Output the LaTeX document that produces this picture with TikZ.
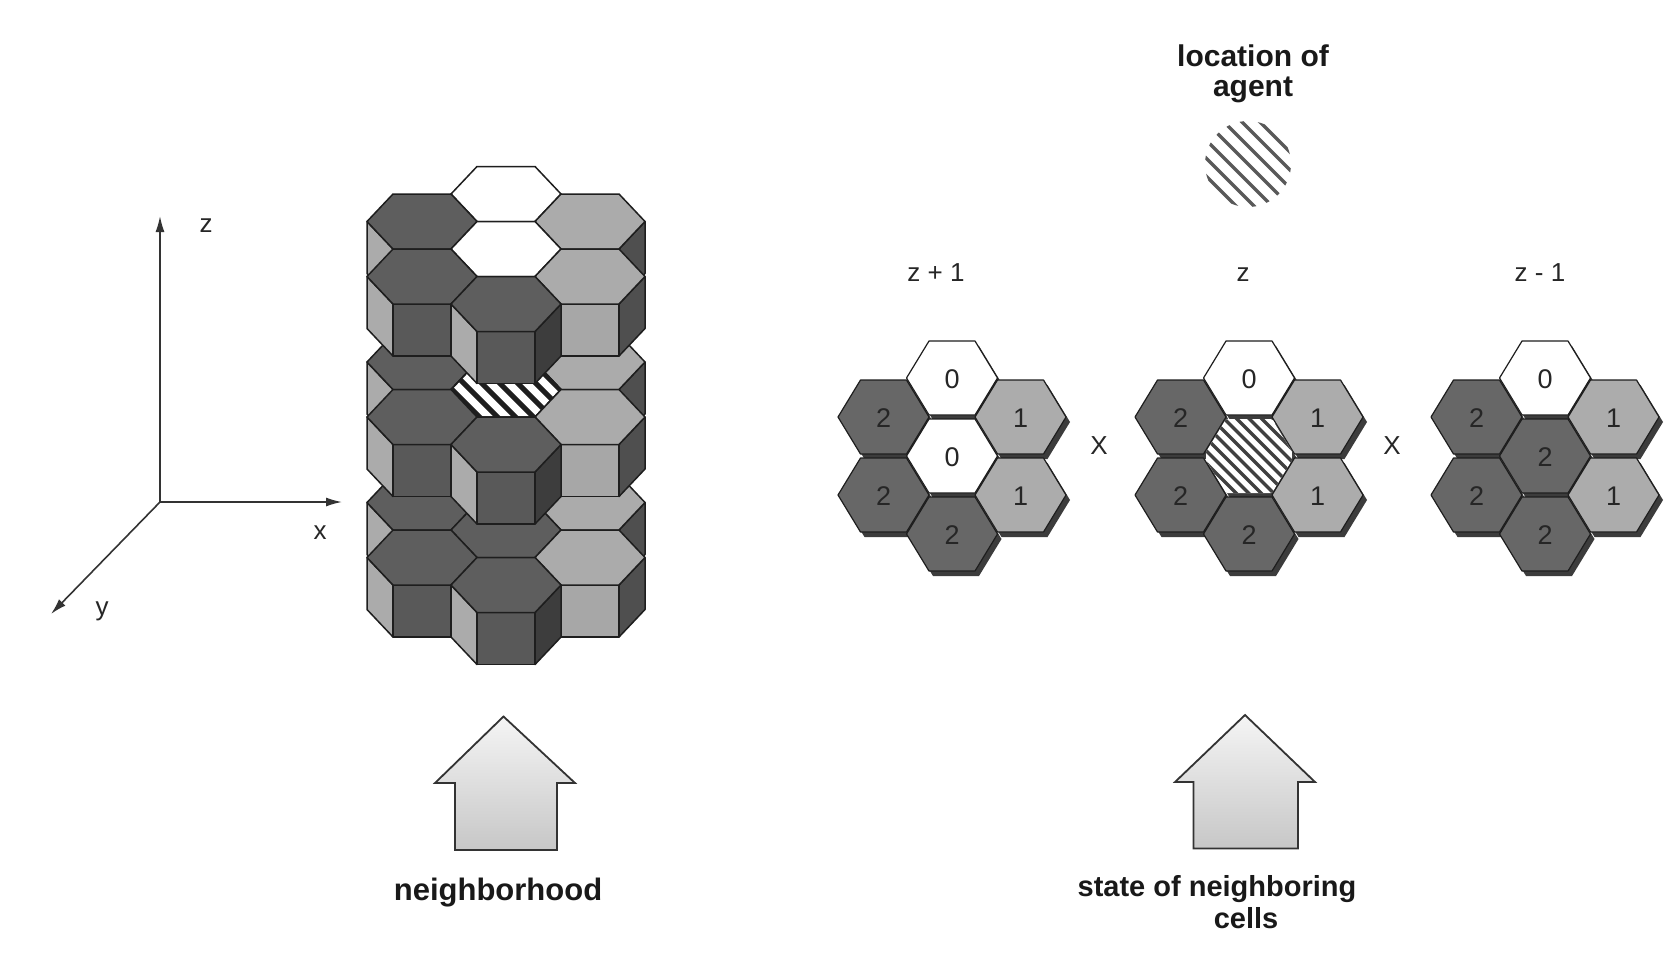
\documentclass[tikz,border=0pt]{standalone}
\usepackage{fontspec}
\setmainfont{Liberation Sans}
\usetikzlibrary{arrows.meta}
\definecolor{dkTop}{HTML}{5E5E5E}
\definecolor{dkFront}{HTML}{595959}
\definecolor{sideL}{HTML}{ABABAB}
\definecolor{dkRight}{HTML}{3D3D3D}
\definecolor{ltTop}{HTML}{ABABAB}
\definecolor{ltFront}{HTML}{A7A7A7}
\definecolor{ltRight}{HTML}{4F4F4F}
\definecolor{wtFront}{HTML}{DDDDDD}
\definecolor{hexDk}{HTML}{676767}
\definecolor{hexLt}{HTML}{ACACAC}
\definecolor{hexSh}{HTML}{3C3C3C}
\definecolor{lineC}{HTML}{1E1E1E}
\tikzset{
  edge3d/.style={draw=lineC, line width=0.75pt, line join=round},
  hex2d/.style={draw=lineC, line width=0.6pt, line join=round},
  stripe3d/.style={draw=lineC, line width=2.6pt},
  stripe2d/.style={draw=black!75, line width=1.6pt},
  stripeag/.style={draw=black!65, line width=1.7pt},
  digit/.style={font=\fontsize{13.5pt}{13.5pt}\selectfont, text=black!85, inner sep=0pt},
  plainlbl/.style={font=\fontsize{13pt}{13pt}\selectfont, text=black!85, inner sep=0pt},
  boldlbl/.style={font=\fontsize{15pt}{15pt}\selectfont\bfseries, text=black!90, inner sep=0pt, anchor=base},
  axisline/.style={draw=black!80, line width=0.8pt, -{Latex[length=8pt,width=4.5pt]}},
  blockarrow/.style={draw=black!80, line width=0.9pt, line join=miter, top color=black!4, bottom color=black!22}
}
% 3D hexagonal prism: cx, cy, top, front, left, right
\newcommand\Prism[6]{%
  \begin{scope}[shift={(#1,#2)}]
    \filldraw[edge3d, fill=#5] (-55,0) -- (-29,27.5) -- (-29,79.5) -- (-55,52) -- cycle;
    \filldraw[edge3d, fill=#4] (-29,27.5) -- (29,27.5) -- (29,79.5) -- (-29,79.5) -- cycle;
    \filldraw[edge3d, fill=#6] (29,27.5) -- (55,0) -- (55,52) -- (29,79.5) -- cycle;
    \filldraw[edge3d, fill=#3] (-55,0) -- (-29,-27.5) -- (29,-27.5) -- (55,0) -- (29,27.5) -- (-29,27.5) -- cycle;
  \end{scope}}
\newcommand\PrismDk[2]{\Prism{#1}{#2}{dkTop}{dkFront}{sideL}{dkRight}}
\newcommand\PrismLt[2]{\Prism{#1}{#2}{ltTop}{ltFront}{sideL}{ltRight}}
\newcommand\PrismWt[2]{\Prism{#1}{#2}{white}{wtFront}{sideL}{ltRight}}
\newcommand\PrismHatch[2]{%
  \PrismWt{#1}{#2}%
  \begin{scope}[shift={(#1,#2)}]
    \begin{scope}
      \clip (-55,0) -- (-29,-27.5) -- (29,-27.5) -- (55,0) -- (29,27.5) -- (-29,27.5) -- cycle;
      \foreach \k in {-6,...,6} \draw[stripe3d] ({\k*18-40},-40) -- ++(80,80);
    \end{scope}
    \draw[edge3d] (-55,0) -- (-29,-27.5) -- (29,-27.5) -- (55,0) -- (29,27.5) -- (-29,27.5) -- cycle;
  \end{scope}}
\newcommand\StackLayer[2]{%
  \PrismWt{506}{#1-55}%
  \PrismDk{422}{#1-27.5}%
  \PrismLt{590}{#1-27.5}%
  #2{506}{#1}%
  \PrismDk{422}{#1+27.5}%
  \PrismLt{590}{#1+27.5}%
  \PrismDk{506}{#1+55}%
}
% flat 2D hexagon with shadow: cx, cy, fill, digit, node name
\newcommand\FlatHex[5]{%
  \begin{scope}[shift={(#1,#2)}]
    \fill[hexSh] (-41.5,5) -- (-19,-32) -- (27,-32) -- (49.5,5) -- (27,42) -- (-19,42) -- cycle;
    \filldraw[hex2d, fill=#3] (-45.5,0) -- (-23,-37) -- (23,-37) -- (45.5,0) -- (23,37) -- (-23,37) -- cycle;
    \node[digit] (#5) at (0,1) {#4};
  \end{scope}}
\newcommand\FlatHatch[2]{%
  \begin{scope}[shift={(#1,#2)}]
    \fill[hexSh] (-41.5,5) -- (-19,-32) -- (27,-32) -- (49.5,5) -- (27,42) -- (-19,42) -- cycle;
    \begin{scope}
      \clip (-45.5,0) -- (-23,-37) -- (23,-37) -- (45.5,0) -- (23,37) -- (-23,37) -- cycle;
      \clip (0,0) circle[radius=43];
      \fill[white] (-50,-50) rectangle (50,50);
      \foreach \k in {-8,...,8} \draw[stripe2d] ({\k*12.5-50},-50) -- ++(100,100);
    \end{scope}
  \end{scope}}
\newcommand\HexGroup[4]{%
  \FlatHex{#1}{#2-78}{white}{0}{#3t}%
  \FlatHex{#1-68.5}{#2-39}{hexDk}{2}{#3ul}%
  \FlatHex{#1+68.5}{#2-39}{hexLt}{1}{#3ur}%
  #4%
  \FlatHex{#1-68.5}{#2+39}{hexDk}{2}{#3ll}%
  \FlatHex{#1+68.5}{#2+39}{hexLt}{1}{#3lr}%
  \FlatHex{#1}{#2+78}{hexDk}{2}{#3b}%
}
\begin{document}
\begin{tikzpicture}[x=0.5pt, y=-0.5pt]
\useasboundingbox (0,0) rectangle (1664,965);
\fill[white] (0,0) rectangle (1664,965);

% ---- axes ----
\coordinate (O) at (160,502);
\coordinate (Zt) at (160,216);
\coordinate (Xt) at (342,502);
\coordinate (Yt) at (51,614);
\draw[axisline] (O) -- (Zt);
\draw[axisline] (O) -- (Xt);
\draw[axisline] (O) -- (Yt);
\node[plainlbl] (lz) at (206,226) {z};
\node[plainlbl] (lx) at (320,533) {x};
\node[plainlbl] (ly) at (102,611) {y};

% ---- 3D stack: bottom (z-1), middle (z), top (z+1) ----
\StackLayer{530}{\PrismDk}
\StackLayer{389.5}{\PrismHatch}
\StackLayer{249}{\PrismWt}

% ---- agent location ----
\node[boldlbl] (loc1) at (1253,66.5) {location of};
\node[boldlbl] (loc2) at (1253,96.5) {agent};
\begin{scope}
  \clip (1248,164) circle[radius=43];
  \foreach \k in {-6,...,6} \draw[stripeag] ({1248+\k*18-60},{164-60}) -- ++(120,120);
\end{scope}

% ---- layer labels ----
\node[plainlbl, anchor=base] (lzp) at (936,281.5) {z + 1};
\node[plainlbl, anchor=base] (lz0) at (1243,281.5) {z};
\node[plainlbl, anchor=base] (lzm) at (1540,281.5) {z - 1};

% ---- 2D hex groups ----
\HexGroup{952}{456}{A}{\FlatHex{952}{456}{white}{0}{Ac}}
\HexGroup{1249}{456}{B}{\FlatHatch{1249}{456}}
\HexGroup{1545}{456}{C}{\FlatHex{1545}{456}{hexDk}{2}{Cc}}
\node[plainlbl] (x1) at (1099,446) {X};
\node[plainlbl] (x2) at (1392,446) {X};

% ---- block arrows ----
\path[blockarrow] (503.5,716.5) -- (575,783) -- (557,783) -- (557,850) -- (455,850) -- (455,783) -- (435,783) -- cycle;
\path[blockarrow] (1245,715) -- (1315,782) -- (1298,782) -- (1298,848.5) -- (1193.5,848.5) -- (1193.5,782) -- (1175,782) -- cycle;

\node[boldlbl, font=\fontsize{15.5pt}{15.5pt}\selectfont\bfseries] (nb) at (498,900) {neighborhood};
\node[boldlbl, font=\fontsize{14.5pt}{14.5pt}\selectfont\bfseries] (st1) at (1217,896.5) {state of neighboring};
\node[boldlbl, font=\fontsize{14.5pt}{14.5pt}\selectfont\bfseries] (st2) at (1246,928) {cells};
\end{tikzpicture}
\end{document}
